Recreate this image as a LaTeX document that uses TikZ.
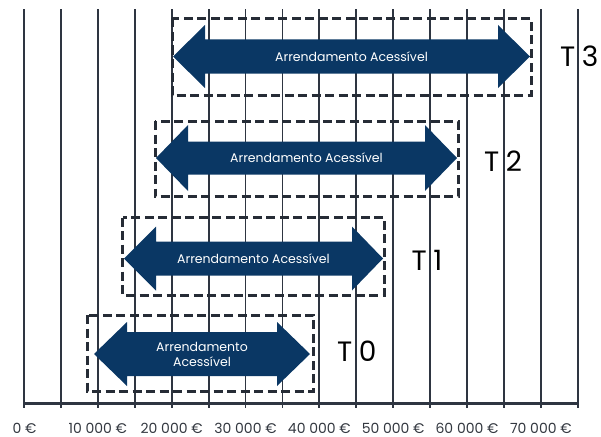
\documentclass[tikz,border=0pt]{standalone}
\usepackage{fontspec}
\setmainfont{Poppins}
\definecolor{navy}{HTML}{0A3764}
\definecolor{gridc}{HTML}{2E3541}
\definecolor{boxc}{HTML}{262C36}
\definecolor{labc}{HTML}{333840}
\tikzset{
  gridline/.style={draw=gridc, line width=1.8pt},
  axisline/.style={draw=gridc, line width=2.4pt},
  dashbox/.style={draw=boxc, line width=3pt, dash pattern=on 9pt off 4.5pt},
  arrowbody/.style={fill=navy},
  arrowtext/.style={text=white, font=\fontsize{12.5}{15}\selectfont, align=center, inner sep=0pt},
  axislabel/.style={text=labc, font=\fontsize{14}{16}\selectfont, inner sep=0pt},
  tlabel/.style={text=black, font=\fontsize{28}{30}\selectfont, inner sep=0pt, anchor=base west},
}
\begin{document}
\begin{tikzpicture}[x=1pt,y=-1pt]
\useasboundingbox (0,0) rectangle (601,436);
% grid lines
\foreach \i in {0,...,15}
  \draw[gridline] ({24+\i*36.92},9.5) -- ({24+\i*36.92},408);
\draw[axisline] (23,403.5) -- (579,403.5);
% axis labels
\node[axislabel] (l0) at (24.5,428.5) {0 €};
\foreach \v/\i in {10/2,20/4,30/6,40/8,50/10,60/12,70/14}
  \node[axislabel] (l\v) at ({24+\i*36.92},428.5) {\v\ 000 €};
% arrows: xl, xr, hbl, hbr, c, hh, sh
\foreach \n/\xl/\xr/\hl/\hr/\c/\hh/\sh in {
   a3/173/530/205/498/56.5/31.5/17,
   a2/156/457/188/425/158/33/16.5,
   a1/124/383/156/352/258.5/32/17,
   a0/94/310/127/277/354/32/22}
  \fill[arrowbody] (\xl,\c) -- (\hl,\c-\hh) -- (\hl,\c-\sh) -- (\hr,\c-\sh) -- (\hr,\c-\hh)
     -- (\xr,\c) -- (\hr,\c+\hh) -- (\hr,\c+\sh) -- (\hl,\c+\sh) -- (\hl,\c+\hh) -- cycle;
% dashed boxes
\draw[dashbox] (172,18.5) rectangle (531,95);
\draw[dashbox] (155,121) rectangle (458,196.5);
\draw[dashbox] (122.5,217.5) rectangle (384.5,295);
\draw[dashbox] (87,315) rectangle (313.5,391);
% arrow texts
\node[arrowtext] (t3) at (351.5,56.5) {Arrendamento Acessível};
\node[arrowtext] (t2) at (306.5,158) {Arrendamento Acessível};
\node[arrowtext] (t1) at (253.5,258.5) {Arrendamento Acessível};
\node[arrowtext] (t0) at (202,354) {Arrendamento\\Acessível};
% T labels
\node[tlabel] (T3) at (560,66.7) {T\hspace{6.5pt}3};
\node[tlabel] (T2) at (484,171) {T\hspace{6.5pt}2};
\node[tlabel] (T1) at (411.5,270) {T\hspace{6.5pt}1};
\node[tlabel] (T0) at (337,361.7) {T\hspace{6.5pt}0};
\end{tikzpicture}
\end{document}
